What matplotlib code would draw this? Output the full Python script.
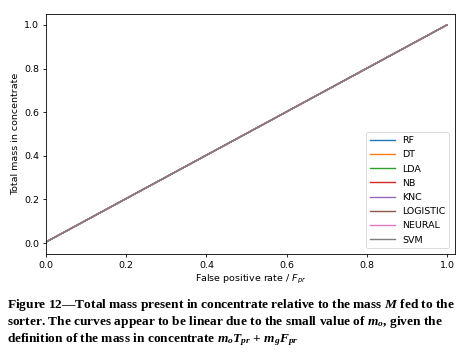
import matplotlib
matplotlib.use("Agg")
import matplotlib.pyplot as plt
import numpy as np

# Data
models = ["RF", "DT", "LDA", "NB", "KNC", "LOGISTIC", "NEURAL", "SVM"]
fpr = [0.0, 0.2, 0.4, 0.6, 0.8, 1.0]
mass = {
    "RF":       [0.005, 0.204, 0.403, 0.602, 0.801, 1.0],
    "DT":       [0.005, 0.204, 0.403, 0.602, 0.801, 1.0],
    "LDA":      [0.005, 0.204, 0.403, 0.602, 0.801, 1.0],
    "NB":       [0.005, 0.204, 0.403, 0.602, 0.801, 1.0],
    "KNC":      [0.005, 0.204, 0.403, 0.602, 0.801, 1.0],
    "LOGISTIC": [0.005, 0.204, 0.403, 0.602, 0.801, 1.0],
    "NEURAL":   [0.005, 0.204, 0.403, 0.602, 0.801, 1.0],
    "SVM":      [0.005, 0.204, 0.403, 0.602, 0.801, 1.0],
}
xticks = [0.0, 0.2, 0.4, 0.6, 0.8, 1.0]
yticks = [0.0, 0.2, 0.4, 0.6, 0.8, 1.0]

plt.rcParams['mathtext.fontset'] = 'custom'
plt.rcParams['mathtext.rm'] = 'Liberation Serif:bold'
plt.rcParams['mathtext.it'] = 'Liberation Serif:bold:italic'
plt.rcParams['mathtext.bf'] = 'Liberation Serif:bold'

W, H = 465, 355
fig = plt.figure(figsize=(W / 100, H / 100), dpi=100)
ax = fig.add_axes([46 / W, (H - 254) / H, (455 - 46) / W, (254 - 14) / H])

fs = 6.8
colors = plt.rcParams['axes.prop_cycle'].by_key()['color']
for i, m in enumerate(models):
    ax.plot(fpr, mass[m], color=colors[i], lw=1.0, label=m)

ax.set_xlim(0, 1.02)
ax.set_ylim(-0.05, 1.05)
ax.set_xticks(xticks)
ax.set_yticks(yticks)
ax.set_xticklabels([f"{t:.1f}" for t in xticks], fontsize=fs)
ax.set_yticklabels([f"{t:.1f}" for t in yticks], fontsize=fs)
ax.tick_params(length=2.4, width=0.6, pad=2.4)
for s in ax.spines.values():
    s.set_linewidth(0.6)
ax.set_xlabel(r"False positive rate / $F_{pr}$", fontsize=fs, labelpad=2.5,
              math_fontfamily='dejavusans')
ax.set_ylabel("Total mass in concentrate", fontsize=fs, labelpad=3)
leg = ax.legend(loc='lower right', fontsize=fs, handlelength=2.6,
                labelspacing=0.55, borderaxespad=0.6, frameon=True)
leg.get_frame().set_linewidth(0.6)

cap_fs = 9.6
cap_kw = dict(fontsize=cap_fs, family='Liberation Serif', weight='bold',
              va='baseline', ha='left', math_fontfamily='custom')
fig.text(7 / W, 1 - 308 / H,
         r"Figure 12—Total mass present in concentrate relative to the mass $M$ fed to the", **cap_kw)
fig.text(7 / W, 1 - 325 / H,
         r"sorter. The curves appear to be linear due to the small value of $m_o$, given the", **cap_kw)
fig.text(7 / W, 1 - 342 / H,
         r"definition of the mass in concentrate $m_oT_{pr}$ + $m_gF_{pr}$", **cap_kw)

fig.savefig("out.png", dpi=100)
